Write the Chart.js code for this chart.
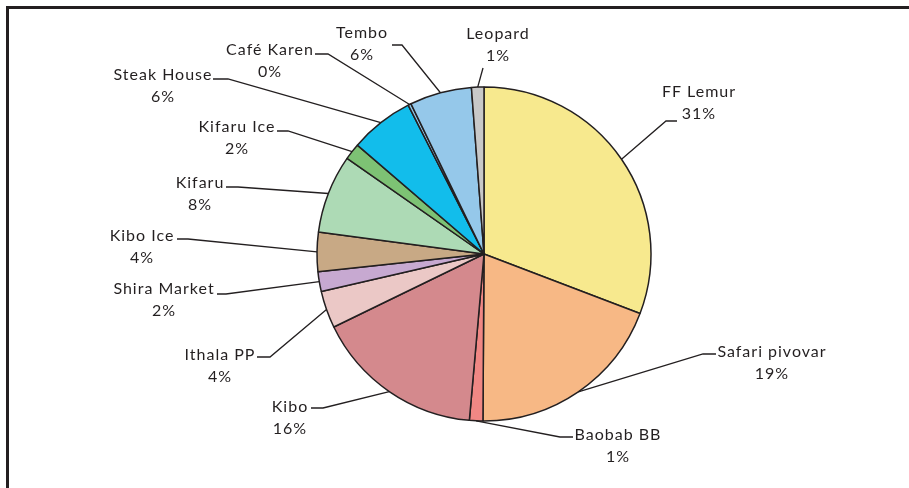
<!DOCTYPE html>
<html>
<head>
<meta charset="utf-8">
<script src="https://cdn.jsdelivr.net/npm/chart.js@4/dist/chart.umd.min.js"></script>
<style>
    body { margin: 0; background: #fff; }
    #wrap { position: relative; width: 909px; height: 488px; }
    #frame { position: absolute; left: 6px; top: 6px; right: 0; bottom: 0;
             border-top: 3px solid #231f20; border-left: 3px solid #231f20; }
    canvas { position: absolute; left: 0; top: 0; }
</style>
</head>
<body>
<div id="wrap">
    <div id="frame"></div>
    <canvas id="chart" width="909" height="488"></canvas>
</div>
<script>
// data (share of total, %)
var categories = ["FF Lemur", "Safari pivovar", "Baobab BB", "Kibo", "Ithala PP", "Shira Market",
    "Kibo Ice", "Kifaru", "Kifaru Ice", "Steak House", "Café Karen", "Tembo", "Leopard"];
var values = [30.8, 19.3, 1.3, 16.4, 3.6, 1.9, 3.8, 7.6, 1.6, 6.2, 0.3, 6.0, 1.2];
var slice_colors = ["#F7E98E", "#F7B885", "#F08784", "#D4898D", "#EBC8C6", "#C7A9D1",
    "#C8A985", "#ADDAB5", "#7DC274", "#12BDEB", "#8FC6E8", "#95C8EA", "#C8C8C8"];

// label placement: text centre, elbow of leader line, end of horizontal piece
var label_pos = [
    { tx: 699, ty: 92,  ex: 666, ey: 121, hx: 677 },
    { tx: 772, ty: 352, ex: 703, ey: 354, hx: 716 },
    { tx: 618, ty: 435, ex: 560, ey: 437, hx: 573 },
    { tx: 290, ty: 407, ex: 323, ey: 408, hx: 311 },
    { tx: 220, ty: 355, ex: 270, ey: 357, hx: 257 },
    { tx: 164, ty: 289, ex: 226, ey: 294, hx: 217 },
    { tx: 142, ty: 236, ex: 188, ey: 239, hx: 177 },
    { tx: 200, ty: 183, ex: 238, ey: 187, hx: 226 },
    { tx: 237, ty: 127, ex: 288, ey: 131, hx: 277 },
    { tx: 163, ty: 75,  ex: 228, ey: 79,  hx: 213 },
    { tx: 270, ty: 50,  ex: 328, ey: 54,  hx: 315 },
    { tx: 362, ty: 33,  ex: 402, ey: 45,  hx: 392 },
    { tx: 498, ty: 34,  ex: 483, ey: 68,  hx: 483 }
];

var ink = "#231f20";

var outsideLabels = {
    id: "outsideLabels",
    afterDraw: function(chart) {
        var ctx = chart.ctx;
        var meta = chart.getDatasetMeta(0);
        var total = values.reduce(function(a, b) { return a + b; }, 0);
        ctx.save();
        ctx.strokeStyle = ink;
        ctx.lineWidth = 1.3;
        ctx.fillStyle = ink;
        ctx.font = "16px Lato";
        ctx.letterSpacing = "1px";
        ctx.textAlign = "center";
        ctx.textBaseline = "middle";
        meta.data.forEach(function(arc, i) {
            var p = label_pos[i];
            var mid = (arc.startAngle + arc.endAngle) / 2;
            var ax = arc.x + Math.cos(mid) * arc.outerRadius;
            var ay = arc.y + Math.sin(mid) * arc.outerRadius;
            // leader line
            ctx.beginPath();
            ctx.moveTo(ax, ay);
            ctx.lineTo(p.ex, p.ey);
            ctx.lineTo(p.hx, p.ey);
            ctx.stroke();
            // text
            var pct = Math.round(values[i] / total * 100) + "%";
            ctx.fillText(categories[i], p.tx, p.ty);
            ctx.fillText(pct, p.tx, p.ty + 22);
        });
        ctx.restore();
    }
};

var chart = new Chart(document.getElementById("chart"), {
    type: "pie",
    data: {
        labels: categories,
        datasets: [{
            data: values,
            backgroundColor: slice_colors,
            borderColor: ink,
            borderWidth: 1.5
        }]
    },
    options: {
        responsive: false,
        animation: false,
        radius: 167,
        layout: { padding: { left: 100, right: 41, top: 50, bottom: 30 } },
        plugins: {
            legend: { display: false },
            tooltip: { enabled: false }
        }
    },
    plugins: [outsideLabels]
});
</script>
</body>
</html>
